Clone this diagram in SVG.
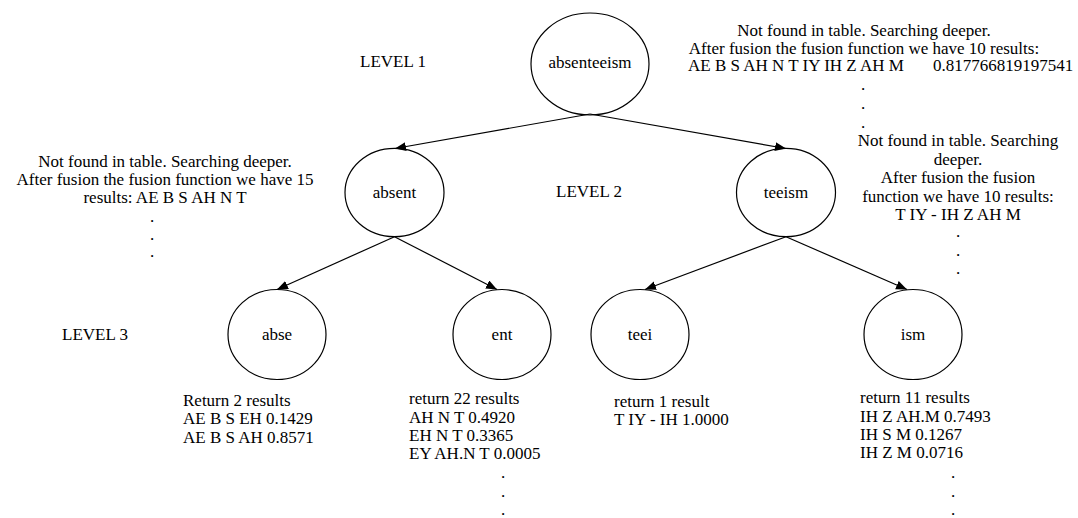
<svg xmlns="http://www.w3.org/2000/svg" width="1078" height="518" viewBox="0 0 1078 518">
  <style>
    text { font-family: "Liberation Serif", "Times New Roman", serif; font-size: 17px; fill: #000; }
    .c { text-anchor: middle; }
    .node ellipse { fill: none; stroke: #000; stroke-width: 1.2; }
    .edge { stroke: #000; stroke-width: 1.2; fill: none; marker-end: url(#arrow); }
  </style>
  <defs>
    <marker id="arrow" markerUnits="userSpaceOnUse" markerWidth="12" markerHeight="10" refX="11" refY="4.5" orient="auto">
      <path d="M0,0 L11,4.5 L0,9 Z" fill="#000"/>
    </marker>
  </defs>

  <!-- level labels -->
  <g id="levels">
    <text x="360" y="67">LEVEL 1</text>
    <text x="556" y="197">LEVEL 2</text>
    <text x="62" y="340">LEVEL 3</text>
  </g>

  <!-- tree nodes -->
  <g id="n-absenteeism" class="node">
    <ellipse cx="590" cy="64" rx="59" ry="51"/>
    <text class="c" x="590" y="68">absenteeism</text>
  </g>
  <g id="n-absent" class="node">
    <ellipse cx="394.5" cy="192.5" rx="49.5" ry="44.2"/>
    <text class="c" x="394.5" y="197.5">absent</text>
  </g>
  <g id="n-teeism" class="node">
    <ellipse cx="786" cy="192.5" rx="49.5" ry="44.2"/>
    <text class="c" x="786" y="197.5">teeism</text>
  </g>
  <g id="n-abse" class="node">
    <ellipse cx="277" cy="334.5" rx="49" ry="45"/>
    <text class="c" x="277" y="340">abse</text>
  </g>
  <g id="n-ent" class="node">
    <ellipse cx="502" cy="334.5" rx="49" ry="45"/>
    <text class="c" x="502" y="340">ent</text>
  </g>
  <g id="n-teei" class="node">
    <ellipse cx="640" cy="334.5" rx="49" ry="45"/>
    <text class="c" x="640" y="340">teei</text>
  </g>
  <g id="n-ism" class="node">
    <ellipse cx="913" cy="334.5" rx="49" ry="45"/>
    <text class="c" x="913" y="340">ism</text>
  </g>

  <!-- connectors -->
  <g id="edges">
    <line class="edge" x1="590" y1="114" x2="395" y2="148.5"/>
    <line class="edge" x1="590" y1="114" x2="786" y2="148.5"/>
    <line class="edge" x1="394.5" y1="236.7" x2="277" y2="289.5"/>
    <line class="edge" x1="394.5" y1="236.7" x2="497" y2="289.5"/>
    <line class="edge" x1="786" y1="236.7" x2="645" y2="289.5"/>
    <line class="edge" x1="786" y1="236.7" x2="907" y2="289.5"/>
  </g>

  <!-- annotation: root -->
  <g id="note-absenteeism">
    <text class="c" x="864" y="36">Not found in table. Searching deeper.</text>
    <text class="c" x="864" y="53.5">After fusion the fusion function we have 10 results:</text>
    <text x="688" y="71">AE B S AH N T IY IH Z AH M</text>
    <text x="933" y="71">0.817766819197541</text>
    <text class="c" x="863" y="90">.</text>
    <text class="c" x="863" y="109">.</text>
    <text class="c" x="863" y="128">.</text>
  </g>

  <!-- annotation: absent -->
  <g id="note-absent">
    <text class="c" x="165" y="166.7">Not found in table. Searching deeper.</text>
    <text class="c" x="165" y="185">After fusion the fusion function we have 15</text>
    <text class="c" x="165" y="202.5">results: AE B S AH N T</text>
    <text class="c" x="152" y="222">.</text>
    <text class="c" x="152" y="239.5">.</text>
    <text class="c" x="152" y="257">.</text>
  </g>

  <!-- annotation: teeism -->
  <g id="note-teeism">
    <text class="c" x="958" y="146">Not found in table. Searching</text>
    <text class="c" x="958" y="164.5">deeper.</text>
    <text class="c" x="958" y="183">After fusion the fusion</text>
    <text class="c" x="958" y="201.5">function we have 10 results:</text>
    <text class="c" x="958" y="220">T IY - IH Z AH M</text>
    <text class="c" x="958" y="237">.</text>
    <text class="c" x="958" y="255.5">.</text>
    <text class="c" x="958" y="274">.</text>
  </g>

  <!-- leaf results -->
  <g id="res-abse">
    <text x="183" y="406">Return 2 results</text>
    <text x="183" y="424.3">AE B S EH 0.1429</text>
    <text x="183" y="442.7">AE B S AH 0.8571</text>
  </g>
  <g id="res-ent">
    <text x="409" y="404.3">return 22 results</text>
    <text x="409" y="422.7">AH N T 0.4920</text>
    <text x="409" y="441">EH N T 0.3365</text>
    <text x="409" y="459.3">EY AH.N T 0.0005</text>
    <text class="c" x="503" y="478">.</text>
    <text class="c" x="503" y="496.5">.</text>
    <text class="c" x="503" y="515">.</text>
  </g>
  <g id="res-teei">
    <text x="614" y="406.7">return 1 result</text>
    <text x="614" y="425">T IY - IH 1.0000</text>
  </g>
  <g id="res-ism">
    <text x="860" y="403.3">return 11 results</text>
    <text x="860" y="421.7">IH Z AH.M 0.7493</text>
    <text x="860" y="440">IH S M 0.1267</text>
    <text x="860" y="458.3">IH Z M 0.0716</text>
    <text class="c" x="953" y="478">.</text>
    <text class="c" x="953" y="496.5">.</text>
    <text class="c" x="953" y="515">.</text>
  </g>
</svg>
